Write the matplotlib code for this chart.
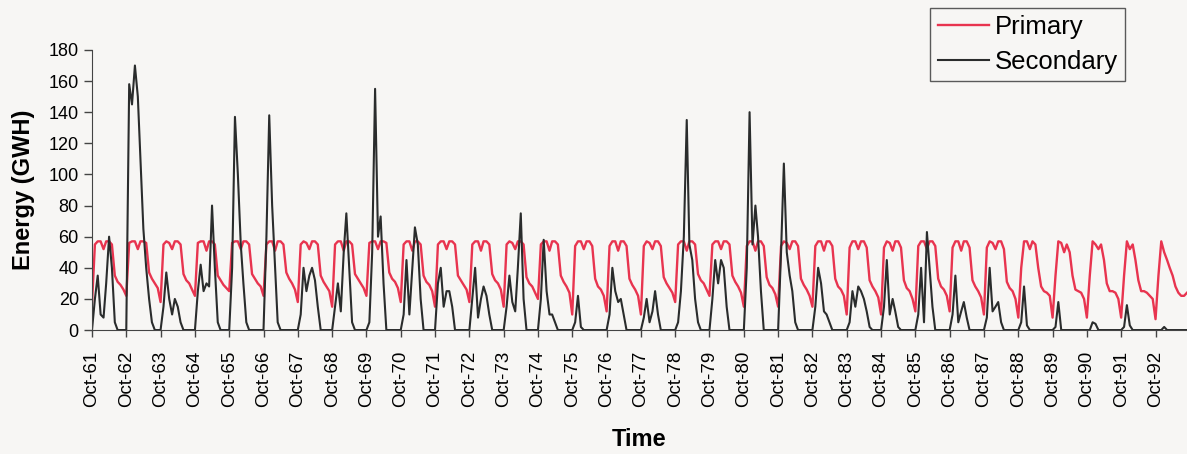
import matplotlib.pyplot as plt
import pandas as pd

# monthly energy, water years Oct-61 .. Sep-93 (12 values per line, Oct..Sep)
primary = [
    17, 55, 57, 57, 52, 57, 57, 55, 35, 31, 29, 26,  # 61
    22, 56, 57, 57, 52, 57, 57, 56, 37, 33, 30, 27,  # 62
    18, 55, 57, 56, 52, 57, 57, 55, 36, 32, 30, 26,  # 63
    22, 56, 57, 57, 51, 57, 57, 55, 35, 32, 29, 27,  # 64
    25, 56, 57, 57, 52, 57, 57, 55, 36, 33, 30, 28,  # 65
    22, 55, 57, 57, 51, 57, 57, 55, 37, 33, 30, 26,  # 66
    18, 55, 57, 56, 52, 57, 57, 55, 35, 31, 28, 25,  # 67
    15, 55, 57, 57, 51, 57, 57, 55, 36, 33, 30, 27,  # 68
    22, 56, 57, 57, 52, 57, 57, 56, 37, 33, 31, 27,  # 69
    18, 55, 57, 57, 51, 57, 57, 55, 35, 31, 29, 25,  # 70
    15, 55, 57, 57, 52, 57, 57, 55, 35, 32, 29, 26,  # 71
    18, 55, 57, 57, 51, 57, 57, 55, 36, 32, 30, 26,  # 72
    15, 55, 57, 56, 52, 57, 57, 55, 34, 30, 28, 24,  # 73
    20, 55, 57, 57, 51, 57, 57, 55, 35, 31, 28, 24,  # 74
    10, 54, 57, 57, 52, 57, 57, 54, 33, 28, 26, 22,  # 75
    12, 54, 57, 57, 51, 57, 57, 54, 33, 29, 26, 22,  # 76
    10, 54, 57, 56, 52, 57, 57, 54, 34, 30, 27, 24,  # 77
    18, 55, 57, 57, 51, 57, 57, 55, 36, 32, 30, 26,  # 78
    22, 55, 57, 57, 52, 57, 57, 55, 35, 31, 28, 24,  # 79
    15, 54, 57, 57, 51, 57, 57, 54, 34, 29, 27, 23,  # 80
    15, 54, 57, 56, 52, 57, 57, 54, 33, 29, 26, 22,  # 81
    15, 54, 57, 57, 51, 57, 57, 54, 33, 28, 26, 22,  # 82
    10, 53, 57, 57, 52, 57, 57, 53, 32, 28, 25, 21,  # 83
    10, 53, 57, 56, 51, 57, 57, 53, 32, 27, 25, 20,  # 84
    12, 54, 57, 57, 52, 57, 57, 54, 33, 28, 26, 22,  # 85
    12, 53, 57, 57, 51, 57, 57, 53, 32, 28, 25, 21,  # 86
    10, 53, 57, 56, 52, 57, 57, 52, 31, 27, 25, 20,  # 87
    8, 40, 57, 57, 52, 57, 55, 40, 28, 25, 24, 22,   # 88
    8, 35, 57, 56, 50, 55, 50, 35, 26, 25, 24, 20,   # 89
    8, 35, 57, 55, 52, 55, 45, 30, 25, 25, 24, 20,   # 90
    8, 35, 57, 52, 55, 45, 32, 25, 25, 24, 22, 20,   # 91
    7, 35, 57, 50, 45, 40, 35, 28, 24, 22, 22, 24,   # 92
]

secondary = [
    0, 20, 35, 10, 8, 30, 60, 40, 5, 0, 0, 0,          # 61
    0, 158, 145, 170, 150, 110, 65, 40, 20, 5, 0, 0,   # 62
    0, 15, 37, 20, 10, 20, 15, 5, 0, 0, 0, 0,          # 63
    0, 25, 42, 25, 30, 28, 80, 40, 5, 0, 0, 0,         # 64
    0, 40, 137, 100, 55, 30, 5, 0, 0, 0, 0, 0,         # 65
    0, 60, 138, 80, 40, 5, 0, 0, 0, 0, 0, 0,           # 66
    0, 10, 40, 25, 35, 40, 32, 15, 0, 0, 0, 0,         # 67
    0, 15, 30, 12, 50, 75, 40, 5, 0, 0, 0, 0,          # 68
    0, 5, 50, 155, 60, 73, 30, 0, 0, 0, 0, 0,          # 69
    0, 10, 45, 10, 40, 66, 55, 20, 0, 0, 0, 0,         # 70
    0, 30, 40, 15, 25, 25, 15, 0, 0, 0, 0, 0,          # 71
    0, 20, 40, 8, 20, 28, 22, 10, 0, 0, 0, 0,          # 72
    0, 15, 35, 18, 12, 40, 75, 20, 0, 0, 0, 0,         # 73
    0, 20, 58, 25, 10, 10, 5, 0, 0, 0, 0, 0,           # 74
    0, 5, 22, 2, 0, 0, 0, 0, 0, 0, 0, 0,               # 75
    0, 10, 40, 25, 18, 20, 10, 0, 0, 0, 0, 0,          # 76
    0, 8, 20, 5, 12, 25, 10, 0, 0, 0, 0, 0,            # 77
    0, 5, 25, 60, 135, 55, 45, 20, 5, 0, 0, 0,         # 78
    0, 20, 45, 30, 45, 40, 15, 0, 0, 0, 0, 0,          # 79
    0, 40, 140, 55, 80, 60, 25, 0, 0, 0, 0, 0,         # 80
    0, 50, 107, 50, 35, 25, 5, 0, 0, 0, 0, 0,          # 81
    0, 15, 40, 30, 12, 10, 5, 0, 0, 0, 0, 0,           # 82
    0, 5, 25, 15, 28, 25, 20, 12, 2, 0, 0, 0,          # 83
    0, 15, 45, 10, 20, 12, 2, 0, 0, 0, 0, 0,           # 84
    0, 10, 40, 5, 63, 40, 15, 0, 0, 0, 0, 0,           # 85
    0, 10, 35, 5, 12, 18, 8, 0, 0, 0, 0, 0,            # 86
    0, 8, 40, 12, 15, 18, 5, 0, 0, 0, 0, 0,            # 87
    0, 5, 28, 3, 0, 0, 0, 0, 0, 0, 0, 0,               # 88
    0, 2, 18, 0, 0, 0, 0, 0, 0, 0, 0, 0,               # 89
    0, 0, 5, 4, 0, 0, 0, 0, 0, 0, 0, 0,                # 90
    0, 2, 16, 3, 0, 0, 0, 0, 0, 0, 0, 0,               # 91
    0, 0, 0, 2, 0, 0, 0, 0, 0, 0, 0, 0,                # 92
]

months = pd.date_range("1961-10-01", periods=len(primary), freq="MS")
tick_dates = pd.date_range("1961-10-01", "1992-10-01", freq="12MS")
tick_labels = [d.strftime("Oct-%y") for d in tick_dates]

plt.rcParams['font.family'] = ['Liberation Sans', 'DejaVu Sans']

bg = '#f7f6f4'
fig = plt.figure(figsize=(11.87, 4.54), dpi=100, facecolor=bg)
ax = fig.add_axes([0.0775, 0.273, 0.9225, 0.617], facecolor=bg)

ax.plot(months, primary, color='#e8344f', lw=1.7, label='Primary')
ax.plot(months, secondary, color='#2a2c2c', lw=1.5, label='Secondary')

ax.set_xlim(months[0], months[-1])
ax.set_ylim(0, 180)
ax.set_yticks(range(0, 181, 20))
ax.set_xticks(tick_dates)
ax.set_xticklabels(tick_labels, rotation=90)
ax.tick_params(axis='y', labelsize=13, length=6, width=1, color='#444444')
ax.tick_params(axis='x', labelsize=13.5, length=5, width=1, color='#444444', pad=10)

for s in ['top', 'right']:
    ax.spines[s].set_visible(False)
for s in ['left', 'bottom']:
    ax.spines[s].set_color('#444444')

ax.set_ylabel('Energy (GWH)', fontsize=17, fontweight='bold', labelpad=10)
ax.set_xlabel('Time', fontsize=17, fontweight='bold', labelpad=15)

leg = fig.legend(loc='upper right', bbox_to_anchor=(0.948, 0.983), fontsize=18.5,
                 frameon=True, fancybox=False, edgecolor='#333333',
                 handlelength=2.0, handletextpad=0.2, borderpad=0.3,
                 borderaxespad=0, labelspacing=0.4)
leg.get_frame().set_facecolor(bg)
leg.get_frame().set_linewidth(1)

plt.savefig("out.png", dpi=100, facecolor=bg)
